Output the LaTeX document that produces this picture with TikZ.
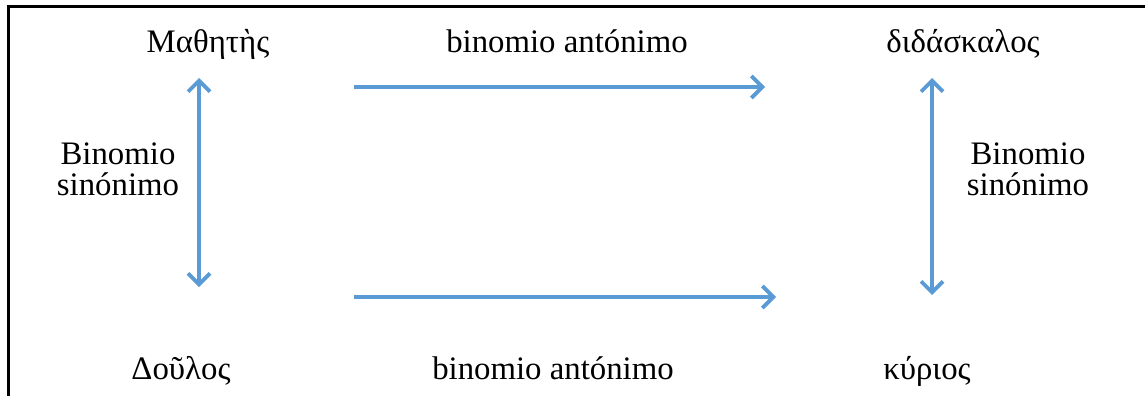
\documentclass[tikz,border=0pt]{standalone}
\usepackage{fontspec}
\setmainfont{Liberation Serif}
\usetikzlibrary{arrows.meta,positioning}
\definecolor{link}{HTML}{5B9BD5}
\tikzset{word/.style={inner sep=0pt,anchor=base,font=\fontsize{16.4}{15.5}\selectfont},
  pair/.style={word,align=center},
  rel/.style={line width=1.9pt,draw=link,-{Straight Barb[length=5.5pt,width=11pt]}},
  both/.style={rel,{Straight Barb[length=5.5pt,width=11pt]}-{Straight Barb[length=5.5pt,width=11pt]}},
  frame/.style={line width=1.4pt}}

\begin{document}
\begin{tikzpicture}[x=0.5pt,y=-0.5pt]
\useasboundingbox (0,0) rectangle (1145,396);
\draw[frame] (8.5,396)--(8.5,6.5)--(1145,6.5);
% the four words
\node[word] (mat) at (208,52) {Μαθητὴς};
\node[word] (did) at (963,52) {διδάσκαλος};
\node[word] (dou) at (181,379) {Δοῦλος};
\node[word] (kyr) at (927,379) {κύριος};
% labels
\node[word] (antA) at (567,52) {binomio antónimo};
\node[word] (antB) at (553,379) {binomio antónimo};
\node[pair] (sinL) at (118,195) {Binomio\\sinónimo};
\node[pair] (sinR) at (1028,195) {Binomio\\sinónimo};
% arrows
\coordinate (lt) at (199,78); \coordinate (lb) at (199,287);
\coordinate (rt) at (932,78); \coordinate (rb) at (932,295);
\coordinate (ta) at (354,87); \coordinate (tb) at (765,87);
\coordinate (ba) at (354,297); \coordinate (bb) at (776,297);
\draw[both] (lt)--(lb);
\draw[both] (rt)--(rb);
\draw[rel] (ta)--(tb);
\draw[rel] (ba)--(bb);
\end{tikzpicture}
\end{document}
